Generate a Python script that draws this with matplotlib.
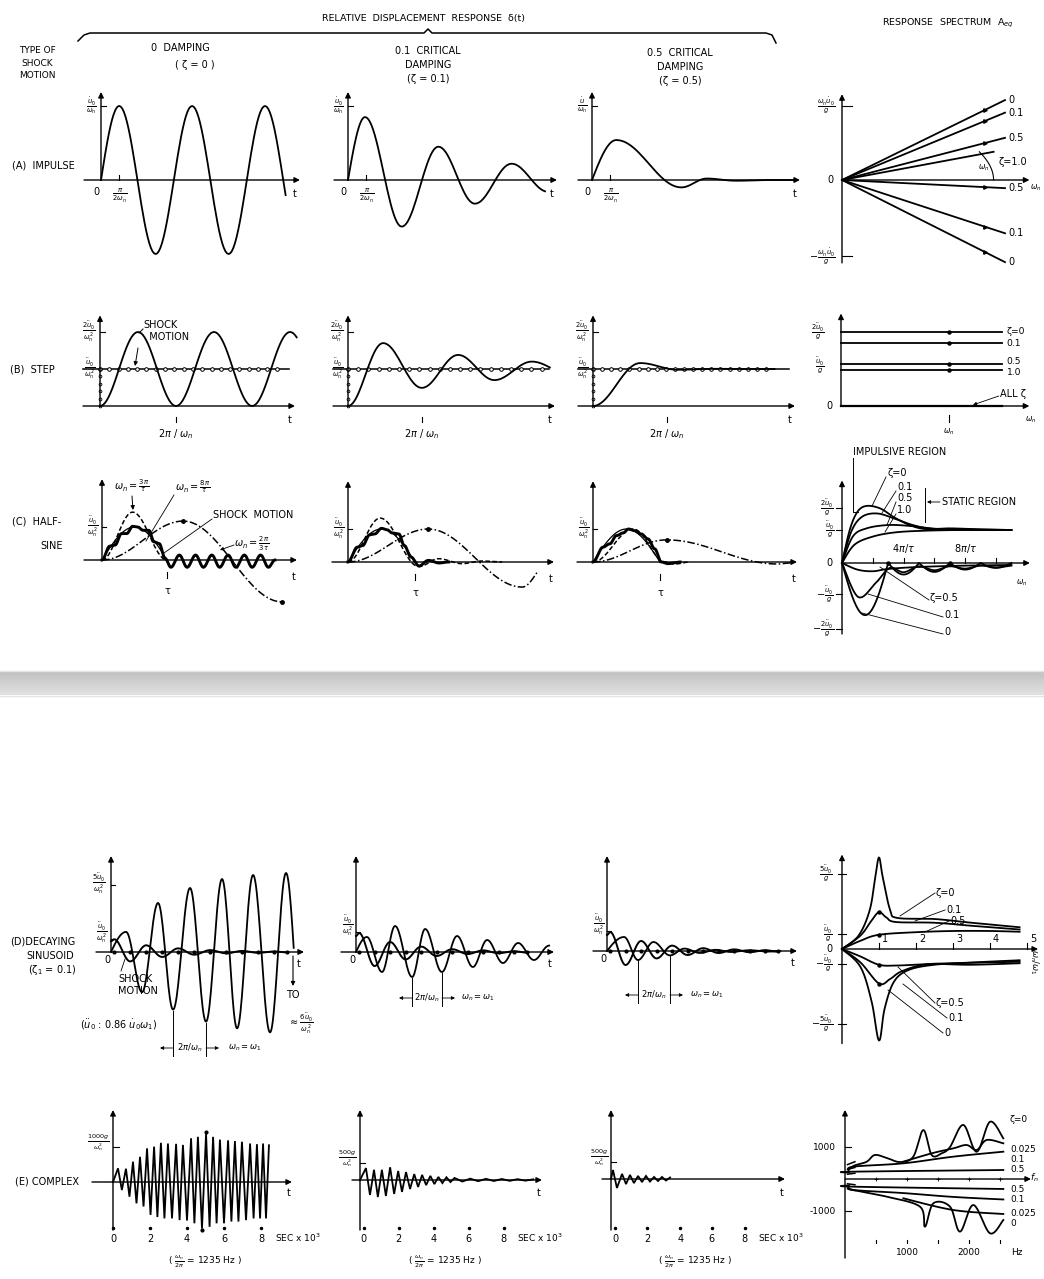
import numpy as np
import matplotlib
matplotlib.use("Agg")
from matplotlib import pyplot as plt

plt.rcParams['font.family'] = ['DejaVu Sans']
plt.rcParams['mathtext.fontset'] = 'dejavusans'

# ---------------- values ----------------
# (A) impulse: t in omega_n*t (rad), y in units of u0dot/omega_n
imp_t0 = [0, 1.57, 4.71, 7.85, 11.0, 14.14, 17.28]
imp_y0 = [0, 1.0, -1.0, 1.0, -1.0, 1.0, -1.0]
imp_t1 = [0, 1.47, 4.63, 7.79, 10.94, 14.1, 17.26]
imp_y1 = [0, 0.85, -0.63, 0.45, -0.32, 0.22, -0.16]
imp_t5 = [0, 2.1, 7.7, 9.9, 12.4, 14.8, 17.5]
imp_y5 = [0, 0.54, -0.10, 0.02, -0.01, 0.0, 0.0]
imp_spec_lab = ['0', '0.1', '0.5', '0.5', '0.1', '0']
imp_spec_slope = [1.08, 0.91, 0.57, -0.11, -0.72, -1.11]
imp_spec_crit = 0.41

# (B) step: y in units of u0ddot/omega_n^2
step_t0 = [0, 3.14, 6.28, 9.42, 12.57, 15.71, 18.85]
step_y0 = [0, 2.0, 0, 2.0, 0, 2.0, 0]
step_t1 = [0, 2.9, 6.1, 9.1, 12.1, 15.2, 18.3]
step_y1 = [0, 1.70, 0.49, 1.38, 0.70, 1.20, 0.86]
step_t5 = [0, 3.9, 7.0, 10.0, 13.0, 15.0]
step_y5 = [0, 1.16, 0.98, 1.005, 1.0, 1.0]
step_spec_lab = ['ζ=0', '0.1', '0.5', '1.0']
step_spec_lev = [2.0, 1.70, 1.14, 0.97]
step_spec_lab_y = [2.0, 1.70, 1.2, 0.9]

# (C) half-sine: t in units of tau
hs_t = [0, 0.5, 1.0]
hs_y = [0, 1.0, 0]
hs0_fast_t = [0, 0.12, 0.2, 0.3, 0.38, 0.47, 0.55, 0.63, 0.72, 0.8, 0.88, 0.97, 1.06, 1.19, 1.31, 1.44,
              1.56, 1.69, 1.81, 1.94, 2.06, 2.19, 2.31, 2.44, 2.56, 2.66]
hs0_fast_y = [0, 0.42, 0.45, 0.8, 0.8, 1.02, 1.0, 0.9, 0.9, 0.55, 0.5, 0.05, -0.22, 0.15, -0.22, 0.15,
              -0.22, 0.15, -0.22, 0.15, -0.22, 0.15, -0.22, 0.15, -0.22, 0.0]
hs0_mid_t = [0, 0.47, 1.0]
hs0_mid_y = [0, 1.45, 0]
hs0_slow_t = [0, 1.25, 2.77]
hs0_slow_y = [0, 1.18, -1.27]
hs1_fast_t = [0, 0.14, 0.22, 0.32, 0.4, 0.5, 0.58, 0.66, 0.76, 0.84, 0.94, 1.06, 1.2, 1.36, 1.5]
hs1_fast_y = [0, 0.45, 0.5, 0.82, 0.85, 1.02, 0.98, 0.88, 0.85, 0.5, 0.15, -0.12, 0.05, -0.03, 0]
hs1_mid_t = [0, 0.48, 1.06, 1.35, 1.7, 2.0, 2.3]
hs1_mid_y = [0, 1.33, -0.14, 0.1, -0.05, 0.03, 0]
hs1_slow_t = [0, 1.2, 2.6, 3.0]
hs1_slow_y = [0, 1.0, -0.76, 0.0]
hs5_fast_t = [0, 0.15, 0.25, 0.35, 0.45, 0.53, 0.62, 0.72, 0.82, 0.92, 1.02, 1.12, 1.3]
hs5_fast_y = [0, 0.45, 0.55, 0.8, 0.88, 1.0, 0.95, 0.85, 0.7, 0.4, 0.0, -0.05, 0]
hs5_mid_t = [0, 0.6, 1.08, 1.22, 1.45]
hs5_mid_y = [0, 1.0, 0, -0.06, 0]
hs5_slow_t = [0, 1.1, 2.75, 2.95]
hs5_slow_y = [0, 0.67, -0.06, -0.03]
# half-sine spectrum, x in pi/tau, y in u0ddot/g
hsp_z0_x = [0, 0.5, 1.0, 1.6, 2.5, 3.4, 4.4, 5.4, 7, 9, 11]
hsp_z0_y = [0, 1.0, 1.55, 1.73, 1.65, 1.38, 1.15, 1.03, 1.05, 1.02, 1.0]
hsp_z01_x = [0, 0.6, 1.3, 2.3, 3.5, 4.6, 5.8, 8, 11]
hsp_z01_y = [0, 0.95, 1.4, 1.5, 1.33, 1.15, 1.04, 1.02, 1.0]
hsp_z05_x = [0, 0.7, 1.6, 3, 4.5, 6, 8, 11]
hsp_z05_y = [0, 0.8, 1.05, 1.15, 1.12, 1.04, 1.0, 1.0]
hsp_z1_x = [0, 0.8, 2, 3.5, 5.5, 8, 11]
hsp_z1_y = [0, 0.55, 0.8, 0.93, 0.98, 1.0, 1.0]
hsr_z0_x = [0, 1.5, 3, 4, 5, 6, 7, 8, 9, 10, 11]
hsr_z0_y = [0, -1.58, 0, -0.35, 0, -0.27, 0, -0.2, 0, -0.15, 0]
hsr_z01_x = [0, 1.05, 2.2, 3.1, 4, 5, 6, 7, 8, 9, 10, 11]
hsr_z01_y = [0, -1.03, -0.6, -0.15, -0.28, -0.1, -0.22, -0.1, -0.17, -0.08, -0.13, -0.08]
hsr_z05_x = [0, 1, 2, 3, 5, 8, 11]
hsr_z05_y = [0, -0.2, -0.25, -0.18, -0.12, -0.08, -0.06]

# (D) decaying sinusoid, t in periods
dec_shock_t = [0, 0.1, 0.6, 1.1, 1.6, 2.1, 2.6, 3.1, 3.6, 4.1, 4.6, 5.1, 5.5]
dec_shock_y = [0.8, 0.95, -0.7, 0.5, -0.37, 0.27, -0.2, 0.14, -0.1, 0.08, -0.06, 0.04, -0.03]
dec0_t = [0, 0.47, 0.97, 1.47, 1.94, 2.47, 2.97, 3.47, 3.94, 4.44, 4.97, 5.47, 5.97]
dec0_y = [0, 1.5, -3.0, 3.66, -4.3, 4.78, -5.2, 5.45, -5.7, 5.75, -6.0, 5.9, -6.1]
dec1_t = [0, 0.35, 0.84, 1.26, 1.81, 2.23, 2.77, 3.26, 3.77, 4.23, 4.74, 5.23, 5.74, 6.23]
dec1_y = [0, 0.75, -1.0, 1.3, -1.25, 1.15, -1.0, 0.8, -0.75, 0.6, -0.55, 0.45, -0.4, 0.32]
dec5_t = [0, 0.55, 1.0, 1.5, 2.03, 2.5, 3.0, 3.5, 4.0, 4.6, 5.2, 5.8]
dec5_y = [0, 0.7, -0.45, 0.45, -0.22, 0.12, -0.1, 0.06, -0.05, 0.04, -0.03, 0.02]
# decaying sinusoid spectrum, x in omega_n/omega_1, y in u0ddot/g
dsp_z0_x = [0, 0.45, 0.75, 0.9, 1.0, 1.1, 1.3, 1.5, 2.5, 3.5, 4.8]
dsp_z0_y = [0, 0.9, 2.6, 4.8, 6.1, 4.8, 2.6, 2.07, 2.0, 1.75, 1.45]
dsp_z01_x = [0, 0.5, 0.8, 1.0, 1.2, 1.45, 2.5, 3.5, 4.8]
dsp_z01_y = [0, 0.9, 1.9, 2.45, 2.1, 1.8, 1.75, 1.55, 1.3]
dsp_z05_x = [0, 0.5, 1.0, 2.0, 3.0, 4.0, 4.8]
dsp_z05_y = [0, 0.55, 0.95, 1.12, 1.2, 1.2, 1.15]
dsn_z0_x = [0, 0.5, 0.8, 1.0, 1.15, 1.4, 1.8, 2.5, 3.5, 4.8]
dsn_z0_y = [0, -1.2, -3.5, -6.1, -4.0, -2.2, -1.4, -1.05, -0.9, -0.75]
dsn_z01_x = [0, 0.5, 1.0, 1.3, 1.6, 2.2, 3.0, 4.8]
dsn_z01_y = [0, -0.9, -2.3, -2.0, -1.5, -1.05, -0.95, -0.85]
dsn_z05_x = [0, 0.5, 1.0, 1.5, 2.5, 3.5, 4.8]
dsn_z05_y = [0, -0.5, -1.05, -1.1, -1.0, -1.05, -0.95]

# (E) complex shock, t in ms
cx0_pos_t = [0.27, 0.70, 1.08, 1.46, 1.84, 2.22, 2.59, 2.97, 3.41, 3.78, 4.22, 4.59, 5.03, 5.41, 5.78,
             6.22, 6.59, 6.97, 7.41, 7.78, 8.11, 8.43]
cx0_pos_y = [0.39, 0.38, 0.58, 0.72, 0.96, 1.01, 1.12, 1.10, 1.09, 1.06, 1.25, 1.29, 1.38, 1.29, 1.21,
             1.19, 1.17, 1.15, 1.10, 1.08, 1.10, 1.05]
cx0_neg_t = [0.48, 0.89, 1.27, 1.65, 2.03, 2.40, 2.78, 3.19, 3.60, 4.00, 4.40, 4.81, 5.22, 5.60, 6.00,
             6.40, 6.78, 7.19, 7.60, 7.95, 8.27]
cx0_neg_y = [-0.23, -0.42, -0.61, -0.70, -0.94, -1.00, -1.04, -1.04, -1.09, -1.10, -1.18, -1.33, -1.28,
             -1.18, -1.18, -1.13, -1.13, -1.09, -1.04, -1.04, -1.04]
cx1_pos_t = [0.34, 0.80, 1.25, 1.72, 2.18, 2.63, 3.10, 3.55, 4.02, 4.48, 4.94, 5.40, 6.3, 7.2, 8.1, 9.0, 9.9]
cx1_pos_y = [0.7, 0.6, 0.6, 0.75, 0.53, 0.47, 0.35, 0.3, 0.24, 0.18, 0.16, 0.12, 0.08, 0.07, 0.06, 0.05, 0.04]
cx1_neg_t = [0.57, 1.02, 1.48, 1.95, 2.40, 2.86, 3.32, 3.78, 4.25, 4.71, 5.17, 5.85, 6.75, 7.65, 8.55, 9.45]
cx1_neg_y = [-0.88, -1.0, -0.94, -0.82, -0.7, -0.53, -0.41, -0.3, -0.24, -0.18, -0.12, -0.09, -0.07,
             -0.06, -0.05, -0.04]
cx5_pos_t = [0.12, 0.67, 1.15, 1.64, 2.12, 2.61, 3.09, 3.58]
cx5_pos_y = [0.53, 0.3, 0.24, 0.18, 0.18, 0.12, 0.12, 0.09]
cx5_neg_t = [0.36, 0.91, 1.39, 1.88, 2.36, 2.85, 3.33]
cx5_neg_y = [-0.53, -0.3, -0.24, -0.18, -0.15, -0.12, -0.09]
# complex spectrum, Hz vs g
csp_lab = ['ζ=0', '0.025', '0.1', '0.5', '0.5', '0.1', '0.025', '0']
csp_x = [[60, 150, 350, 480, 672, 887, 1102, 1263, 1398, 1559, 1694, 1909, 2124, 2339, 2554],
         [941, 1398, 1747, 1962, 2124, 2285, 2554],
         [60, 134, 941, 1747, 2554],
         [60, 134, 2554],
         [60, 134, 2554],
         [60, 134, 941, 1747, 2554],
         [941, 1747, 2554],
         [60, 134, 672, 1210, 1290, 1425, 1694, 1855, 2070, 2339, 2554]]
csp_y = [[300, 420, 540, 750, 660, 530, 700, 1530, 750, 802, 1000, 1690, 850, 1790, 1270],
         [542, 802, 958, 1062, 906, 1219, 1115],
         [250, 385, 490, 698, 854],
         [200, 229, 281],
         [-200, -240, -312],
         [-250, -344, -440, -560, -640],
         [-604, -969, -1094],
         [-300, -344, -552, -865, -1490, -760, -865, -1646, -812, -1698, -1281]]
csp_lab_y = [1120, 1149, 1160, 1170, 1189, 1200, 1213, 1224]

# ---------------- drawing helpers ----------------
W, H = 1044, 1279
fig = plt.figure(figsize=(W / 100, H / 100), dpi=100)
bg = fig.add_axes([0, 0, 1, 1])
bg.set_xlim(0, W)
bg.set_ylim(H, 0)
bg.axis('off')

FS = 7.0
LW = 1.3


def panel(ox, oy, sx, sy, box):
    l, t, r, b = box
    ax = fig.add_axes([l / W, 1 - b / H, (r - l) / W, (b - t) / H])
    ax.set_xlim((l - ox) / sx, (r - ox) / sx)
    ax.set_ylim((oy - b) / sy, (oy - t) / sy)
    ax.axis('off')
    return ax


def arrow(ax, p0, p1, lw=1.0, ms=8):
    ax.annotate('', xy=p1, xytext=p0,
                arrowprops=dict(arrowstyle='-|>', color='k', lw=lw, mutation_scale=ms,
                                shrinkA=0, shrinkB=0))


def frame(ax, x0, x1, y0, y1):
    arrow(ax, (x0, 0), (x1, 0))
    arrow(ax, (0, y0), (0, y1))


def wave(ts, ys, steep=False, t_end=None, n=24):
    xs, vs = [], []
    s = np.linspace(0, 1, n)
    for i in range(len(ts) - 1):
        y0, y1 = ys[i], ys[i + 1]
        if steep and y0 == 0:
            f = np.sin(np.pi / 2 * s)
        elif steep and y1 == 0:
            f = 1 - np.cos(np.pi / 2 * s)
        else:
            f = (1 - np.cos(np.pi * s)) / 2
        xs.append(ts[i] + (ts[i + 1] - ts[i]) * s)
        vs.append(y0 + (y1 - y0) * f)
    x, y = np.concatenate(xs), np.concatenate(vs)
    if t_end is not None:
        m = x <= t_end
        x, y = x[m], y[m]
    return x, y


def spline(xs, ys, n=14):
    P = np.column_stack([xs, ys]).astype(float)
    P = np.vstack([P[0], P, P[-1]])
    s = np.linspace(0, 1, n)[:, None]
    out = []
    for i in range(1, len(P) - 2):
        p0, p1, p2, p3 = P[i - 1], P[i], P[i + 1], P[i + 2]
        out.append(0.5 * (2 * p1 + (-p0 + p2) * s + (2 * p0 - 5 * p1 + 4 * p2 - p3) * s ** 2
                          + (-p0 + 3 * p1 - 3 * p2 + p3) * s ** 3))
    c = np.vstack(out)
    return c[:, 0], c[:, 1]


def zigzag(pt, py, nt, ny):
    t = np.concatenate([[0], pt, nt])
    y = np.concatenate([[0], py, ny])
    o = np.argsort(t)
    return t[o], y[o]


def txt(x, y, s, fs=FS, ha='left', va='center', **kw):
    bg.text(x, y, s, fontsize=fs, ha=ha, va=va, **kw)


def ptxt(ax, x, y, s, fs=FS, ha='center', va='center', **kw):
    ax.text(x, y, s, fontsize=fs, ha=ha, va=va, **kw)


# ---------------- headings ----------------
txt(423, 19, 'RELATIVE  DISPLACEMENT  RESPONSE  δ(t)', ha='center', fs=6.8)
txt(948, 23, 'RESPONSE  SPECTRUM  A$_{eq}$', ha='center', fs=6.8)
bx = [78, 84, 90, 424, 428, 432, 766, 772, 776]
by = [41, 35, 33, 33, 29, 33, 33, 35, 43]
bg.plot(bx, by, color='k', lw=1.1)
txt(37, 63, 'TYPE OF\nSHOCK\nMOTION', ha='center', fs=6.5, linespacing=1.5)
txt(180, 48, '0  DAMPING', ha='center')
txt(195, 65, '( ζ = 0 )', ha='center')
txt(428, 65, '0.1  CRITICAL\nDAMPING\n(ζ = 0.1)', ha='center', linespacing=1.45)
txt(680, 67, '0.5  CRITICAL\nDAMPING\n(ζ = 0.5)', ha='center', linespacing=1.45)
txt(12, 165, '(A)  IMPULSE')
txt(10, 370, '(B)  STEP')
txt(12, 521, '(C)  HALF-')
txt(40, 546, 'SINE')
txt(10, 941, '(D)DECAYING')
txt(26, 956, 'SINUSOID')
txt(28, 970, '(ζ$_1$ = 0.1)')
txt(15, 1182, '(E) COMPLEX')

# grey separator
grad = np.linspace(0.76, 0.88, 30).reshape(-1, 1)
bg.imshow(grad, cmap='gray', vmin=0, vmax=1, aspect='auto', extent=[0, W, 695, 672], zorder=0)
bg.plot([0, W], [671, 671], color='#e4e4e4', lw=1)
bg.plot([0, W], [696, 696], color='#e4e4e4', lw=1)
bg.set_xlim(0, W)
bg.set_ylim(H, 0)

# ---------------- row A: impulse ----------------
for ox, ts, ys, te, box, ylab in [
        (101, imp_t0, imp_y0, 16.0, (78, 86, 305, 262), r'$\frac{\dot u_0}{\omega_n}$'),
        (348, imp_t1, imp_y1, 17.0, (328, 86, 562, 262), r'$\frac{\dot u_0}{\omega_n}$'),
        (592, imp_t5, imp_y5, 17.5, (572, 86, 805, 262), r'$\frac{\dot u}{\omega_n}$')]:
    ax = panel(ox, 180, 11.6, 74, box)
    frame(ax, (box[0] + 6 - ox) / 11.6, (box[2] - 5 - ox) / 11.6, 0, 1.19)
    ax.plot(*wave(ts, ys, steep=True, t_end=te), color='k', lw=LW)
    ax.plot([0, 0.45], [1, 1], color='k', lw=0.8)
    ax.plot([1.57, 1.57], [0, 0.07], color='k', lw=0.8)
    ptxt(ax, -0.35, 1.0, ylab, ha='right')
    if ox < 600:
        ptxt(ax, -0.1, -0.1, '0', ha='right', va='top')
    ptxt(ax, 1.57, -0.09, r'$\frac{\pi}{2\omega_n}$', va='top')
    ptxt(ax, (box[2] - 10 - ox) / 11.6, -0.12, 't', va='top')

ax = panel(842, 180, 163, 74, (815, 86, 1044, 270))
frame(ax, 0, 1.15, -1.12, 1.16)
for lab, s in zip(imp_spec_lab, imp_spec_slope):
    ax.plot([0, 1], [0, s], color='k', lw=LW)
    ax.plot([0.88], [0.88 * s], marker='>', ms=2.5, color='k')
    ptxt(ax, 1.02, s, lab, ha='left')
ax.plot([0, 0.93], [0, 0.93 * imp_spec_crit], color='k', lw=LW)
ang = np.linspace(0, 0.93 * imp_spec_crit, 12)
ax.plot(0.93 - 0.6 * ang ** 2, ang, color='k', lw=0.8)
ptxt(ax, 0.87, 0.16, r'$\omega_n$', fs=5.5)
ptxt(ax, 0.96, 0.24, 'ζ=1.0', ha='left')
ptxt(ax, 1.19, -0.1, r'$\omega_n$', fs=5.5)
ax.plot([0, 0.06], [1, 1], color='k', lw=0.8)
ax.plot([0, 0.06], [-1.03, -1.03], color='k', lw=0.8)
ptxt(ax, -0.04, 1.0, r'$\frac{\omega_n \dot u_0}{g}$', ha='right')
ptxt(ax, -0.04, -1.03, r'$-\frac{\omega_n \dot u_0}{g}$', ha='right')
ptxt(ax, -0.05, 0, '0', ha='right')

# ---------------- row B: step ----------------
for ox, ts, ys, te, mk_end, tick, box in [
        (100, step_t0, step_y0, 16.3, 14.6, 6.28, (78, 308, 305, 445)),
        (348, step_t1, step_y1, 16.7, 16.0, 6.1, (328, 308, 565, 445)),
        (593, step_t5, step_y5, 15.0, 14.3, 6.1, (573, 308, 805, 445))]:
    ax = panel(ox, 406, 12.1, 37, box)
    x0, x1 = (box[0] + 5 - ox) / 12.1, (box[2] - 10 - ox) / 12.1
    frame(ax, x0, x1, 0, 2.45)
    ax.plot([x0, x1 - 0.5], [1, 1], color='k', lw=1.1)
    mt = np.linspace(0, mk_end, 20)
    ax.plot(mt, np.ones_like(mt), 'o', ms=2.6, mfc='white', mec='k', mew=0.7)
    ax.plot(np.zeros(6), np.linspace(0, 1, 6), 'o', ms=2, mfc='white', mec='k', mew=0.6)
    ax.plot(*wave(ts, ys, t_end=te), color='k', lw=LW)
    ax.plot([0, 0.4], [2, 2], color='k', lw=0.8)
    ax.plot([tick, tick], [-0.3, -0.42], color='k', lw=0.8)
    ptxt(ax, tick, -0.75, r'2$\pi$ / $\omega_n$', va='center')
    ptxt(ax, x1 - 0.4, -0.38, 't')
    ptxt(ax, -0.35, 2.0, r'$\frac{2\ddot u_0}{\omega_n^2}$', ha='right')
    ptxt(ax, -0.35, 1.0, r'$\frac{\ddot u_0}{\omega_n^2}$', ha='right')
txt(143, 331, 'SHOCK\n  MOTION', linespacing=1.3, va='center')
bg.plot([143, 139], [329, 333], color='k', lw=0.7)
arrow(bg, (138, 348), (135, 366), lw=0.7, ms=6)

ax = panel(841, 406, 161, 37, (815, 308, 1044, 445))
frame(ax, 0, 1.17, 0, 2.5)
for lab, lev, ly in zip(step_spec_lab, step_spec_lev, step_spec_lab_y):
    ax.plot([0, 1.0], [lev, lev], color='k', lw=LW)
    ax.plot([0.67], [lev], 'o', ms=2.2, color='k')
    ptxt(ax, 1.03, ly, lab, ha='left', fs=6.6)
ax.plot([0, 1.0], [0, 0], color='k', lw=1.6)
ax.plot([0.67, 0.67], [-0.25, -0.42], color='k', lw=0.8)
ptxt(ax, 0.67, -0.7, r'$\omega_n$', fs=5.5)
ptxt(ax, 1.18, -0.38, r'$\omega_n$', fs=5.5)
ptxt(ax, 0.99, 0.33, 'ALL ζ', ha='left')
arrow(ax, (0.98, 0.27), (0.82, 0.03), lw=0.6, ms=5)
ptxt(ax, -0.1, 2.0, r'$\frac{2\ddot u_0}{g}$', ha='right')
ptxt(ax, -0.1, 1.1, r'$\frac{\ddot u_0}{g}$', ha='right')
ptxt(ax, -0.05, 0, '0', ha='right')

# ---------------- row C: half-sine ----------------
dash = (0, (3, 1.6))
dashdot = (0, (5, 1.6, 1, 1.6))
for ox, oy, fast, mid, slow, s_end, box in [
        (102, 560, (hs0_fast_t, hs0_fast_y), (hs0_mid_t, hs0_mid_y), (hs0_slow_t, hs0_slow_y), 2.83,
         (80, 470, 305, 612)),
        (348, 562, (hs1_fast_t, hs1_fast_y), (hs1_mid_t, hs1_mid_y), (hs1_slow_t, hs1_slow_y), 2.83,
         (328, 470, 562, 612)),
        (593, 562, (hs5_fast_t, hs5_fast_y), (hs5_mid_t, hs5_mid_y), (hs5_slow_t, hs5_slow_y), 2.95,
         (573, 470, 805, 612))]:
    sx = 65 if ox < 200 else 67
    ax = panel(ox, oy, sx, 33, box)
    x1 = (box[2] - 8 - ox) / sx
    frame(ax, (box[0] + 4 - ox) / sx, x1, 0, 2.45)
    ax.plot(*wave(hs_t, hs_y, steep=True), color='k', lw=0.9)
    ax.plot(*wave(*fast), color='k', lw=2.1)
    ax.plot(*wave(*mid), color='k', lw=1.1, ls=dash)
    sxv, syv = wave(*slow, t_end=s_end)
    ax.plot(sxv, syv, color='k', lw=1.1, ls=dashdot)
    ax.plot(slow[0][1:2], slow[1][1:2], 'o', ms=2.5, color='k')
    ax.plot([0, 0.06], [1, 1], color='k', lw=0.8)
    ax.plot([1, 1], [-0.35, -0.55], color='k', lw=0.8)
    ptxt(ax, 1, -0.95, 'τ')
    ptxt(ax, x1 - 0.05, -0.5, 't')
    ptxt(ax, -0.06, 1.0, r'$\frac{\ddot u_0}{\omega_n^2}$', ha='right')
    if ox < 200:
        ax.plot(slow[0][2:3], slow[1][2:3], 'o', ms=2.5, color='k')
txt(132, 486, r'$\omega_n = \frac{3\pi}{\tau}$', ha='center')
arrow(bg, (132, 496), (133, 510), lw=0.7, ms=6)
txt(193, 487, r'$\omega_n = \frac{8\pi}{\tau}$', ha='center')
bg.plot([174, 146], [495, 541], color='k', lw=0.6)
txt(213, 515, 'SHOCK  MOTION')
bg.plot([212, 164], [519, 553], color='k', lw=0.6)
txt(252, 544, r'$\omega_n = \frac{2\pi}{3\tau}$', ha='center')
arrow(bg, (234, 545), (220, 550), lw=0.6, ms=5)

ax = panel(842, 563, 15.4, 33, (815, 445, 1044, 652))
frame(ax, 0, 12.2, -2.15, 2.5)
for xs, ys in [(hsp_z0_x, hsp_z0_y), (hsp_z01_x, hsp_z01_y), (hsp_z05_x, hsp_z05_y),
               (hsp_z1_x, hsp_z1_y), (hsr_z01_x, hsr_z01_y), (hsr_z05_x, hsr_z05_y)]:
    ax.plot(*spline(xs, ys), color='k', lw=LW)
ax.plot(*wave(hsr_z0_x, hsr_z0_y, steep=True), color='k', lw=LW)
ax.plot([3, 7], [0, 0], 'o', ms=2.2, color='k')
for k in [2, 4, 6, 8, 10]:
    ax.plot([k, k], [0, 0.15], color='k', lw=0.8)
ptxt(ax, 4, 0.45, r'4$\pi$/$\tau$')
ptxt(ax, 8, 0.45, r'8$\pi$/$\tau$')
ptxt(ax, 11.7, -0.6, r'$\omega_n$', fs=5.5)
for yv, lab in [(1.67, r'$\frac{2\ddot u_0}{g}$'), (1.0, r'$\frac{\ddot u_0}{g}$'),
                (-0.95, r'$-\frac{\ddot u_0}{g}$'), (-2.0, r'$-\frac{2\ddot u_0}{g}$')]:
    ax.plot([-0.4, 0], [yv, yv], color='k', lw=0.8)
    ptxt(ax, -0.5, yv, lab, ha='right')
ptxt(ax, -0.6, 0, '0', ha='right')
txt(900, 452, 'IMPULSIVE REGION', ha='center')
bg.plot([853, 853, 858], [458, 512, 512], color='k', lw=0.7)
bg.plot([925, 925], [488, 522], color='k', lw=0.7)
arrow(bg, (940, 502), (927, 502), lw=0.6, ms=5)
txt(942, 502, 'STATIC REGION')
for lx, ly, lab, px, py in [(887, 473, 'ζ=0', 872, 506), (897, 487, '0.1', 882, 513),
                            (897, 498, '0.5', 887, 525), (897, 510, '1.0', 885, 532),
                            (930, 598, 'ζ=0.5', 880, 567), (944, 615, '0.1', 868, 594),
                            (944, 632, '0', 862, 613)]:
    txt(lx, ly, lab)
    bg.plot([lx - 1, px], [ly + (2 if ly > 560 else 4), py], color='k', lw=0.6)

# ---------------- row D: decaying sinusoid ----------------
for ox, oy, sx, sy, rt, ry, tend, box in [
        (111, 952, 32, 13.4, dec0_t, dec0_y, 5.72, (88, 850, 312, 1062)),
        (356, 952, 31, 20, dec1_t, dec1_y, 6.3, (333, 850, 562, 1012)),
        (607, 951, 31, 20, dec5_t, dec5_y, 5.6, (585, 850, 805, 1012))]:
    ax = panel(ox, oy, sx, sy, box)
    x1 = (box[2] - 8 - ox) / sx
    frame(ax, (box[0] + 8 - ox) / sx, x1, 0, (oy - 856) / sy)
    ax.plot(*wave(rt, ry, steep=True, t_end=tend), color='k', lw=LW)
    shx, shy = wave(dec_shock_t, dec_shock_y)
    ax.plot(shx, shy, color='k', lw=1.4)
    ax.plot(dec_shock_t[1:], np.zeros(len(dec_shock_t) - 1), 'o', ms=2, color='k')
    ax.plot([0, 0.12], [1, 1], color='k', lw=0.8)
    ptxt(ax, -0.1, 1.0 + 6 / sy, r'$\frac{\ddot u_0}{\omega_n^2}$', ha='right')
    ptxt(ax, -0.02, -8 / sy, '0', ha='right')
    ptxt(ax, x1 - 0.15, -12 / sy, 't')
txt(106, 884, r'$\frac{5\ddot u_0}{\omega_n^2}$', ha='right')
bg.plot([111, 115], [885, 885], color='k', lw=0.8)
arrow(bg, (293, 956), (293, 986), lw=0.8, ms=6)
txt(293, 995, 'TO', ha='center')
txt(301, 1024, r'$\approx\frac{6\ddot u_0}{\omega_n^2}$', ha='center')
txt(118, 985, 'SHOCK\nMOTION', linespacing=1.3)
bg.plot([121, 125], [971, 959], color='k', lw=0.6)
txt(119, 1025, r'($\ddot u_0$ : 0.86 $\dot u_0\omega_1$)', ha='center')
for xa, xb, yb, ya1, ya2, xl in [(173, 206, 1048, 1011, 1023, 245), (412, 442, 998, 978, 973, 478),
                                 (638, 670, 995, 960, 955, 707)]:
    bg.plot([xa, xa], [ya1, yb + 8], color='k', lw=0.7)
    bg.plot([xb, xb], [ya2, yb + 8], color='k', lw=0.7)
    arrow(bg, (xa, yb), (xa - 13, yb), lw=0.6, ms=5)
    arrow(bg, (xb, yb), (xb + 13, yb), lw=0.6, ms=5)
    txt((xa + xb) / 2, yb, r'2$\pi$/$\omega_n$', ha='center', fs=6)
    txt(xl, yb, r'$\omega_n = \omega_1$', ha='center', fs=6)

ax = panel(842, 949, 37, 15, (815, 850, 1044, 1050))
frame(ax, 0, 5.3, -6.3, 6.3)
for xs, ys in [(dsp_z0_x, dsp_z0_y), (dsp_z01_x, dsp_z01_y), (dsp_z05_x, dsp_z05_y),
               (dsn_z0_x, dsn_z0_y), (dsn_z01_x, dsn_z01_y), (dsn_z05_x, dsn_z05_y)]:
    ax.plot(*spline(xs, ys), color='k', lw=LW)
ax.plot([1, 1, 1, 1], [0.95, 2.45, -2.3, -1.05], 'o', ms=2.2, color='k')
for k in range(1, 6):
    ax.plot([k, k], [0, 0.4], color='k', lw=0.8)
    ptxt(ax, k + 0.08, 0.7, str(k), ha='left')
for yv, lab in [(5, r'$\frac{5\ddot u_0}{g}$'), (1, r'$\frac{\ddot u_0}{g}$'),
                (-1, r'$-\frac{\ddot u_0}{g}$'), (-5, r'$-\frac{5\ddot u_0}{g}$')]:
    ax.plot([-0.1, 0.1], [yv, yv], color='k', lw=0.8)
    ptxt(ax, -0.25, yv, lab, ha='right')
ptxt(ax, -0.25, 0, '0', ha='right')
ptxt(ax, 5.2, -0.85, r'$\omega_n/\omega_1$', rotation=-90, fs=6)
for lx, ly, lab, px, py in [(936, 893, 'ζ=0', 900, 916), (946, 910, '0.1', 915, 921),
                            (950, 921, '0.5', 925, 932), (936, 1003, 'ζ=0.5', 898, 967),
                            (948, 1018, '0.1', 903, 984), (944, 1033, '0', 888, 990)]:
    txt(lx, ly, lab)
    bg.plot([lx - 1, px], [ly, py], color='k', lw=0.6)

# ---------------- row E: complex ----------------
for ox, oy, sx, sy, pos, neg, box, ylab, xl, sec_x, hz_x in [
        (113, 1182, 18.5, 35, (cx0_pos_t, cx0_pos_y), (cx0_neg_t, cx0_neg_y), (90, 1105, 312, 1250),
         r'$\frac{1000g}{\omega_n^2}$', [0, 2, 4, 6, 8], 275, 205),
        (360, 1180, 17.5, 17, (cx1_pos_t, cx1_pos_y), (cx1_neg_t, cx1_neg_y), (337, 1105, 562, 1250),
         r'$\frac{500g}{\omega_n^2}$', [0.2, 2.2, 4.2, 6.2, 8.2], 517, 445),
        (611, 1179, 16.5, 17, (cx5_pos_t, cx5_pos_y), (cx5_neg_t, cx5_neg_y), (587, 1105, 805, 1250),
         r'$\frac{500g}{\omega_n^2}$', [0.24, 2.2, 4.2, 6.1, 8.1], 758, 695)]:
    ax = panel(ox, oy, sx, sy, box)
    x1 = (box[2] - 20 - ox) / sx
    frame(ax, (box[0] + 2 - ox) / sx if ox < 200 else (box[0] + 15 - ox) / sx, x1,
          (oy - 1230) / sy, (oy - 1110) / sy)
    zt, zy = zigzag(pos[0], pos[1], neg[0], neg[1])
    ax.plot(zt, zy, color='k', lw=1.3, solid_joinstyle='miter')
    ax.plot([0, 0.3], [1, 1], color='k', lw=0.8)
    ptxt(ax, -0.2, 1.0 + 4 / sy, ylab, ha='right', fs=6.5)
    for v, p in zip(['0', '2', '4', '6', '8'], xl):
        ax.plot([p], [(oy - 1228) / sy], 'o', ms=1.5, color='k')
        ptxt(ax, p, (oy - 1239) / sy, v)
    ptxt(ax, x1 - 0.2, (oy - 1193) / sy, 't')
    txt(sec_x, 1238, 'SEC x 10$^3$', fs=6.5)
    txt(hz_x, 1262, r'( $\frac{\omega_n}{2\pi}$ = 1235 Hz )', ha='center', fs=6.5)
    if ox < 200:
        ax.plot([5.03, 4.81], [1.43, -1.38], 'o', ms=2, color='k')

ax = panel(845, 1179, 0.062, 0.032, (815, 1105, 1044, 1268))
frame(ax, 0, 3000, -2470, 2160)
for xs, ys, lab, ly in zip(csp_x, csp_y, csp_lab, csp_lab_y):
    ax.plot(*spline(xs, ys), color='k', lw=LW)
    txt(1010, ly, lab, fs=6.5)
for v in [-300, -150, 150, 300, 450]:
    ax.plot([40, 160], [v, v * 1.2], color='k', lw=1.1)
for k in [500, 1000, 1500, 2000, 2500]:
    ax.plot([k, k], [-1900, -2000], color='k', lw=0.8)
    ax.plot([k], [0], marker='+', ms=3, color='k', mew=0.6)
ptxt(ax, 1000, -2300, '1000', fs=6.5)
ptxt(ax, 2000, -2300, '2000', fs=6.5)
ptxt(ax, 2780, -2300, 'Hz', fs=6.5)
ptxt(ax, -150, 1000, '1000', ha='right', fs=6.5)
ptxt(ax, -150, -1000, '-1000', ha='right', fs=6.5)
ax.plot([0, 100], [1000, 1000], color='k', lw=0.8)
ax.plot([0, 100], [-1000, -1000], color='k', lw=0.8)
txt(1030, 1178, r'$f_n$', fs=6.5)

fig.savefig('out.png', dpi=100, facecolor='white')
